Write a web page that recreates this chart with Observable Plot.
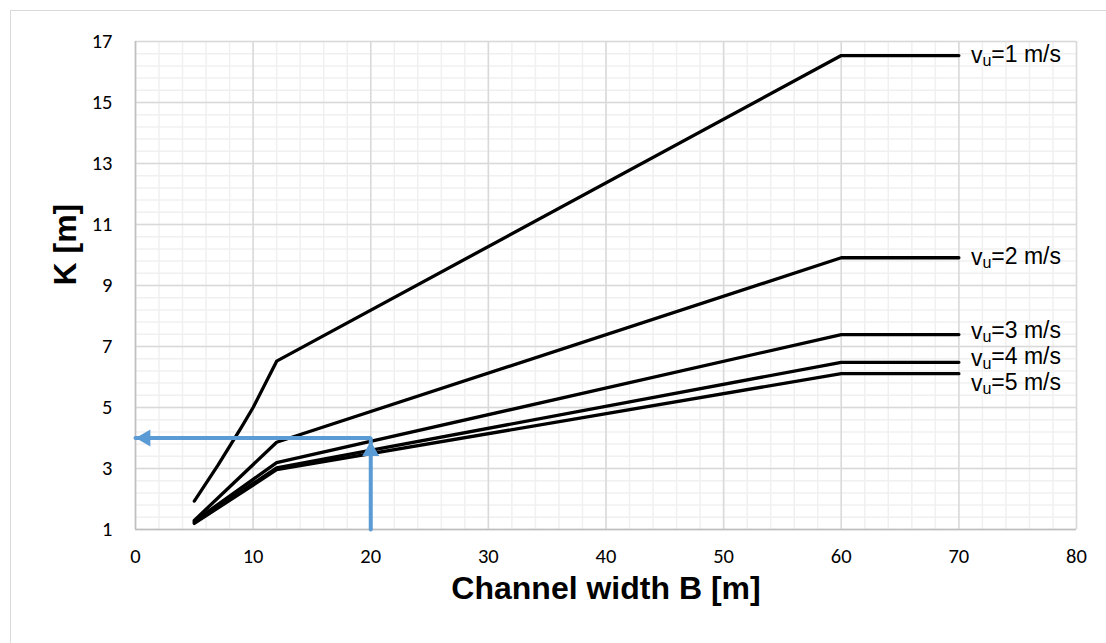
<!DOCTYPE html>
<html>
<head>
<meta charset="utf-8">
<script src="https://cdn.jsdelivr.net/npm/d3@7"></script>
<script src="https://cdn.jsdelivr.net/npm/@observablehq/plot@0.6"></script>
<style>
  html, body { margin: 0; padding: 0; background: #fff; overflow: hidden; }
  #frame { position: absolute; left: 10px; top: 10px; width: 1200px; height: 800px;
           border: 1px solid #d9d9d9; box-sizing: border-box; }
  #chart { position: absolute; left: 0; top: 0; }
</style>
</head>
<body>
<div id="frame"></div>
<div id="chart"></div>
<script>
// Channel width B [m] at the break points of each curve
const widthB1 = [5, 7, 9, 10, 12, 60, 70];
const widthB = [5, 12, 60, 70];

// K [m] for each flow velocity v_u
const kV1 = [1.93, 3.10, 4.35, 5.00, 6.52, 16.54, 16.54];
const kV2 = [1.30, 3.86, 9.91, 9.91];
const kV3 = [1.27, 3.19, 7.39, 7.39];
const kV4 = [1.23, 3.02, 6.48, 6.48];
const kV5 = [1.20, 2.96, 6.11, 6.11];

const velocities = [1, 2, 3, 4, 5];

// Reading example: B = 20 m gives K = 4 m
const readB = 20;
const readK = 4;

// Axis ticks
const xTicks = [0, 10, 20, 30, 40, 50, 60, 70, 80];
const yTicks = [1, 3, 5, 7, 9, 11, 13, 15, 17];
const xMinorStep = 2;
const yMinorStep = 0.4;

const series = [
  {v: 1, B: widthB1, K: kV1},
  {v: 2, B: widthB, K: kV2},
  {v: 3, B: widthB, K: kV3},
  {v: 4, B: widthB, K: kV4},
  {v: 5, B: widthB, K: kV5}
];
const rows = series.flatMap(s => s.B.map((b, i) => ({v: s.v, B: b, K: s.K[i]})));
const ends = series.map(s => ({v: s.v, B: s.B[s.B.length - 1], K: s.K[s.K.length - 1]}));
// vertical nudge of each label so the close ones don't collide
const labelShift = {1: 0, 2: 0, 3: -3, 4: -4, 5: 10};

const xMinor = d3.range(xTicks[0], xTicks[xTicks.length - 1] + 1e-9, xMinorStep);
const yMinor = d3.range(yTicks[0], yTicks[yTicks.length - 1] + 1e-9, yMinorStep);

const arrowPath = [
  {B: readB, K: yTicks[0]},
  {B: readB, K: readK},
  {B: xTicks[0], K: readK}
];

const blue = "#5b9bd5";
const labelFont = "Liberation Sans, Arial, sans-serif";
const tickFont = "Carlito, Lato, sans-serif";

const labelMarks = ends.map(d =>
  Plot.text([d], {x: "B", y: "K", text: e => `v_u=${e.v} m/s`, dx: 12, dy: labelShift[d.v],
    textAnchor: "start", fontSize: 23, fill: "black", fontFamily: labelFont})
);

const chart = Plot.plot({
  width: 1106,
  height: 643,
  marginLeft: 135,
  marginRight: 30,
  marginTop: 41,
  marginBottom: 114,
  x: {domain: [0, 80], axis: null},
  y: {domain: [1, 17], axis: null},
  style: {background: "transparent", fontFamily: tickFont, color: "black"},
  marks: [
    // minor grid
    Plot.ruleX(xMinor, {stroke: "#f0f0f0", strokeWidth: 1.5}),
    Plot.ruleY(yMinor, {stroke: "#f0f0f0", strokeWidth: 1.5}),
    // major grid
    Plot.ruleX(xTicks, {stroke: "#d9d9d9", strokeWidth: 1.5}),
    Plot.ruleY(yTicks, {stroke: "#d9d9d9", strokeWidth: 1.5}),
    // axis lines
    Plot.ruleX([xTicks[0]], {stroke: "#bfbfbf", strokeWidth: 1.5}),
    Plot.ruleY([yTicks[0]], {stroke: "#bfbfbf", strokeWidth: 1.5}),
    // tick labels
    Plot.text(xTicks, {x: d => d, frameAnchor: "bottom", dy: 33, text: d => String(d),
      fontSize: 20.5, fill: "black", fontFamily: tickFont}),
    Plot.text(yTicks, {y: d => d, frameAnchor: "left", dx: -23, textAnchor: "end", text: d => String(d),
      fontSize: 20.5, fill: "black", fontFamily: tickFont}),
    // curves
    Plot.line(rows, {x: "B", y: "K", z: "v", stroke: "black", strokeWidth: 3.3, strokeLinejoin: "round"}),
    // reading arrows
    Plot.line(arrowPath, {x: "B", y: "K", stroke: blue, strokeWidth: 4, strokeLinejoin: "miter"}),
    Plot.dot([arrowPath[1]], {x: "B", y: "K", symbol: "triangle", r: 6.3, fill: blue, stroke: null, dy: 13}),
    Plot.dot([arrowPath[2]], {x: "B", y: "K", symbol: "triangle", r: 6.3, fill: blue, stroke: null, dx: 10, rotate: -90}),
    // curve labels
    ...labelMarks,
    // axis titles
    Plot.text(["Channel width B [m]"], {frameAnchor: "bottom", dy: 69, text: d => d, fontSize: 32,
      fontWeight: "bold", fill: "black", fontFamily: labelFont}),
    Plot.text(["K [m]"], {frameAnchor: "left", dx: -70, text: d => d, rotate: -90, fontSize: 32,
      fontWeight: "bold", fill: "black", fontFamily: labelFont})
  ]
});

// Render the "u" of v_u as a subscript
d3.select(chart).selectAll("text").each(function() {
  const t = this.textContent;
  const m = /^v_u(=.*)$/.exec(t);
  if (!m) return;
  const sel = d3.select(this);
  sel.text(null);
  sel.append("tspan").text("v");
  sel.append("tspan").attr("dy", "0.2em").attr("font-size", "0.7em").text("u");
  sel.append("tspan").attr("dy", "-0.2em").text(m[1]);
});

document.getElementById("chart").appendChild(chart);
</script>
</body>
</html>
